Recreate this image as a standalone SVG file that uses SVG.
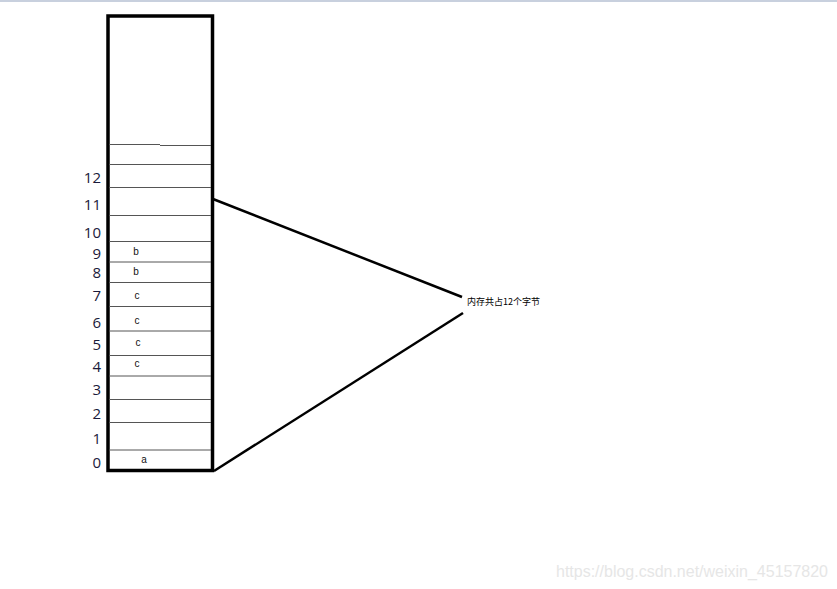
<svg xmlns="http://www.w3.org/2000/svg" width="837" height="589" viewBox="0 0 837 589">
  <style>
    .cell { stroke: #555; stroke-width: 1; fill: none; }
    .idx { font-family: "Segoe UI", "Open Sans", "Liberation Sans", sans-serif; font-size: 15px; fill: #1a1a3a; text-anchor: end; }
    .val { font-family: "Liberation Sans", Arial, sans-serif; font-size: 10px; fill: #111; text-anchor: middle; }
    .link { stroke: #000; stroke-width: 2.5; fill: none; }
    .note { font-family: "Noto Sans CJK SC", "Liberation Sans", sans-serif; font-size: 9px; fill: #000; }
  </style>
  <rect width="837" height="589" fill="#fff"/>
  <rect x="0" y="0" width="837" height="2" fill="#c8d0de"/>

  <g id="memory">
    <rect x="108" y="16" width="104.5" height="454.5" fill="none" stroke="#000" stroke-width="3.5"/>
    <line class="cell" x1="109" y1="144.5" x2="160" y2="144.5"/>
    <line class="cell" x1="160" y1="145.5" x2="211" y2="145.5"/>
    <line class="cell" x1="109" y1="164.5" x2="211" y2="164.5"/>
    <line class="cell" x1="109" y1="187.5" x2="211" y2="187.5"/>
    <line class="cell" x1="109" y1="215.5" x2="211" y2="215.5"/>
    <line class="cell" x1="109" y1="241.5" x2="211" y2="241.5"/>
    <line class="cell" x1="109" y1="262" x2="211" y2="262"/>
    <line class="cell" x1="109" y1="282.5" x2="211" y2="282.5"/>
    <line class="cell" x1="109" y1="306.5" x2="211" y2="306.5"/>
    <line class="cell" x1="109" y1="331" x2="211" y2="331"/>
    <line class="cell" x1="109" y1="355.5" x2="211" y2="355.5"/>
    <line class="cell" x1="109" y1="376" x2="211" y2="376"/>
    <line class="cell" x1="109" y1="399.5" x2="211" y2="399.5"/>
    <line class="cell" x1="109" y1="422.5" x2="211" y2="422.5"/>
    <line class="cell" x1="109" y1="450" x2="211" y2="450"/>
  </g>

  <g id="indices">
    <text class="idx" x="101" y="183">12</text>
    <text class="idx" x="101" y="210">11</text>
    <text class="idx" x="101" y="238">10</text>
    <text class="idx" x="101" y="259">9</text>
    <text class="idx" x="101" y="278">8</text>
    <text class="idx" x="101" y="301">7</text>
    <text class="idx" x="101" y="328">6</text>
    <text class="idx" x="101" y="350">5</text>
    <text class="idx" x="101" y="372">4</text>
    <text class="idx" x="101" y="395">3</text>
    <text class="idx" x="101" y="419">2</text>
    <text class="idx" x="101" y="444">1</text>
    <text class="idx" x="101" y="468">0</text>
  </g>

  <g id="values">
    <text class="val" x="136" y="255">b</text>
    <text class="val" x="136" y="275">b</text>
    <text class="val" x="137" y="299">c</text>
    <text class="val" x="137" y="324">c</text>
    <text class="val" x="138" y="346">c</text>
    <text class="val" x="137" y="367">c</text>
    <text class="val" x="144" y="463">a</text>
  </g>

  <g id="connectors">
    <line class="link" x1="213" y1="199" x2="462" y2="297"/>
    <line class="link" x1="214" y1="471" x2="463" y2="313"/>
  </g>

  <g id="note">
    <text class="note" x="467" y="305">内存共占12个字节</text>
  </g>

  <text x="556" y="577" font-family="Liberation Sans, Arial, sans-serif" font-size="16" fill="#e6e6e6" textLength="272" lengthAdjust="spacingAndGlyphs">https://blog.csdn.net/weixin_45157820</text>
</svg>
